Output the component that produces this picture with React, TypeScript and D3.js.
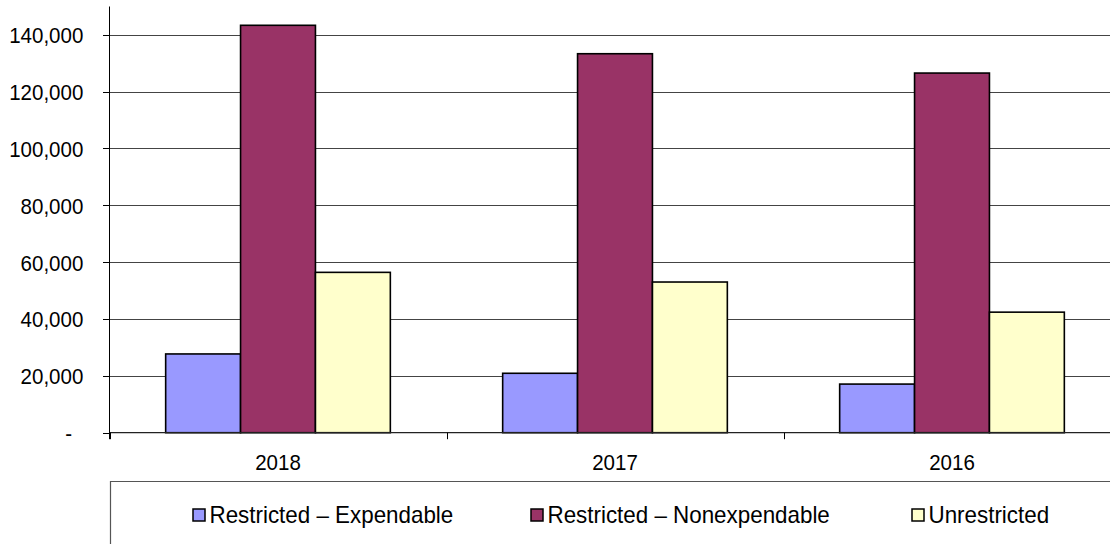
import * as d3 from "d3";

const years = ["2018", "2017", "2016"];
const seriesNames = [
  "Restricted – Expendable",
  "Restricted – Nonexpendable",
  "Unrestricted",
];
const expendable = [27700, 20900, 17100];
const nonexpendable = [143300, 133300, 126500];
const unrestricted = [56400, 53000, 42400];
const yTicks = [0, 20000, 40000, 60000, 80000, 100000, 120000, 140000];

const seriesValues = [expendable, nonexpendable, unrestricted];
const seriesColors = ["#9999FF", "#993366", "#FFFFCC"];

const W = 1110;
const H = 544;
const FONT = "'Liberation Sans', Arial, sans-serif";

export default function App() {
  const left = 109.5;
  const catStep = 337;
  const zeroY = 432.7;

  const x = d3
    .scaleBand<string>()
    .domain(years)
    .range([left, left + catStep * years.length])
    .paddingInner(0)
    .paddingOuter(0);

  const xInner = d3
    .scaleBand<number>()
    .domain(d3.range(seriesNames.length))
    .range([0, x.bandwidth()])
    .paddingInner(0)
    .paddingOuter(0.75);

  const y = d3.scaleLinear().domain([0, 150000]).range([zeroY, 6.25]);

  const fmt = (v: number) => (v === 0 ? "-" : d3.format(",")(v));

  // axis text is a touch narrow in the original
  const axisFont = 22.3;
  const squeeze = "scale(0.92,1)";

  // legend swatch positions (x of square)
  const legendX = [193, 531, 912];
  const legendY = 516;

  return (
    <svg
      width={W}
      height={H}
      style={{ position: "fixed", left: 0, top: 0, background: "#fff" }}
      fontFamily={FONT}
    >
      {/* gridlines */}
      <g>
        {yTicks
          .filter((t) => t > 0)
          .map((t) => (
            <line
              key={t}
              x1={left}
              x2={W}
              y1={Math.round(y(t)) + 0.5}
              y2={Math.round(y(t)) + 0.5}
              stroke="#444"
              strokeWidth={1}
            />
          ))}
      </g>

      {/* bars */}
      <g>
        {years.map((yr, i) => (
          <g key={yr} transform={`translate(${x(yr)},0)`}>
            {seriesValues.map((vals, s) => (
              <rect
                key={s}
                x={xInner(s)}
                y={y(vals[i])}
                width={xInner.bandwidth()}
                height={zeroY - y(vals[i])}
                fill={seriesColors[s]}
                stroke="#000"
                strokeWidth={1.6}
              />
            ))}
          </g>
        ))}
      </g>

      {/* x axis line */}
      <line x1={left} x2={W} y1={zeroY} y2={zeroY} stroke="#222" strokeWidth={1.2} />
      {/* category ticks */}
      {years.map((yr) => (
        <line
          key={yr}
          x1={Math.round(x(yr)!) + 0.5}
          x2={Math.round(x(yr)!) + 0.5}
          y1={zeroY}
          y2={zeroY + 6.5}
          stroke="#000"
          strokeWidth={1}
        />
      ))}
      {/* category labels */}
      {years.map((yr) => (
        <g
          key={yr}
          transform={`translate(${x(yr)! + x.bandwidth() / 2},${zeroY + 37.3}) ${squeeze}`}
        >
          <text textAnchor="middle" fontSize={axisFont} fill="#000">
            {yr}
          </text>
        </g>
      ))}

      {/* y axis */}
      <line x1={left} x2={left} y1={6.5} y2={zeroY + 6.5} stroke="#000" strokeWidth={1} />
      {yTicks.map((t) => (
        <g key={t}>
          <line
            x1={left - 6.5}
            x2={left}
            y1={Math.round(y(t)) + 0.5}
            y2={Math.round(y(t)) + 0.5}
            stroke="#000"
            strokeWidth={1}
          />
          <g transform={`translate(${t === 0 ? 72 : 83.3},${y(t)}) ${squeeze}`}>
            <text dy="0.38em" textAnchor="end" fontSize={axisFont} fill="#000">
              {fmt(t)}
            </text>
          </g>
        </g>
      ))}

      {/* legend box */}
      <path
        d={`M110.5,${H} V481.5 H${W}`}
        fill="none"
        stroke="#555"
        strokeWidth={1.2}
      />
      {seriesNames.map((name, s) => (
        <g key={name} transform={`translate(${legendX[s]},${legendY})`}>
          <rect
            x={0}
            y={-7}
            width={12}
            height={12}
            fill={seriesColors[s]}
            stroke="#000"
            strokeWidth={1.5}
          />
          <g transform={`translate(16.5,7.3) scale(0.965,1)`}>
            <text fontSize={23.2} fill="#000">
              {name}
            </text>
          </g>
        </g>
      ))}
    </svg>
  );
}
